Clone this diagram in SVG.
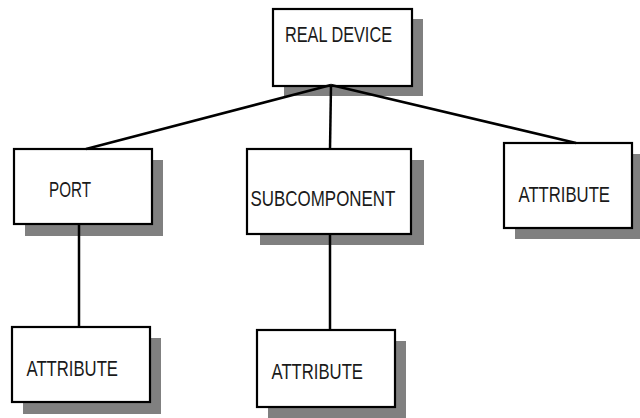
<svg xmlns="http://www.w3.org/2000/svg" width="640" height="418" viewBox="0 0 640 418">
<style>
.shadow{fill:#808080;stroke:none}
.box{fill:#fff;stroke:#000;stroke-width:2.2}
.lbl{font-family:"Liberation Sans",Arial,sans-serif;font-size:22.5px;fill:#1a1a1a}
.conn{stroke:#000;stroke-width:2.5;fill:none}
</style>
<rect width="640" height="418" fill="#fff"/>
<g id="real-device">
<rect class="shadow" x="284" y="19" width="139" height="77"/>
<rect class="box" x="273" y="9" width="139" height="77"/>
<text class="lbl" transform="translate(285 41.5) scale(0.719 1)" x="0" y="0" textLength="148.8" lengthAdjust="spacingAndGlyphs">REAL DEVICE</text>
</g>
<g id="port">
<rect class="shadow" x="25" y="160" width="138" height="76"/>
<rect class="box" x="14" y="149" width="138" height="75"/>
<text class="lbl" transform="translate(49 196.5) scale(0.672 1)" x="0" y="0" textLength="62.5" lengthAdjust="spacingAndGlyphs">PORT</text>
</g>
<g id="subcomponent">
<rect class="shadow" x="260" y="160" width="164" height="85"/>
<rect class="box" x="247" y="149" width="164" height="85"/>
<text class="lbl" transform="translate(250.5 206) scale(0.753 1)" x="0" y="0" textLength="192.5" lengthAdjust="spacingAndGlyphs">SUBCOMPONENT</text>
</g>
<g id="attribute-right">
<rect class="shadow" x="515" y="154" width="125" height="85"/>
<rect class="box" x="504" y="143" width="128" height="85"/>
<text class="lbl" transform="translate(518.5 201.5) scale(0.732 1)" x="0" y="0" textLength="125" lengthAdjust="spacingAndGlyphs">ATTRIBUTE</text>
</g>
<g id="attribute-left">
<rect class="shadow" x="23" y="338" width="138" height="76"/>
<rect class="box" x="12" y="327" width="138" height="75"/>
<text class="lbl" transform="translate(26.5 375.5) scale(0.732 1)" x="0" y="0" textLength="125" lengthAdjust="spacingAndGlyphs">ATTRIBUTE</text>
</g>
<g id="attribute-middle">
<rect class="shadow" x="268" y="341" width="138" height="77"/>
<rect class="box" x="257" y="330" width="138" height="77"/>
<text class="lbl" transform="translate(271.5 378.5) scale(0.732 1)" x="0" y="0" textLength="125" lengthAdjust="spacingAndGlyphs">ATTRIBUTE</text>
</g>
<g id="connectors">
<line class="conn" x1="331" y1="85" x2="86" y2="149"/>
<line class="conn" x1="331" y1="85" x2="330" y2="149"/>
<line class="conn" x1="331" y1="85" x2="576" y2="143"/>
<line class="conn" x1="79" y1="224" x2="79" y2="327"/>
<line class="conn" x1="330" y1="234" x2="330" y2="330"/>
</g>
</svg>
